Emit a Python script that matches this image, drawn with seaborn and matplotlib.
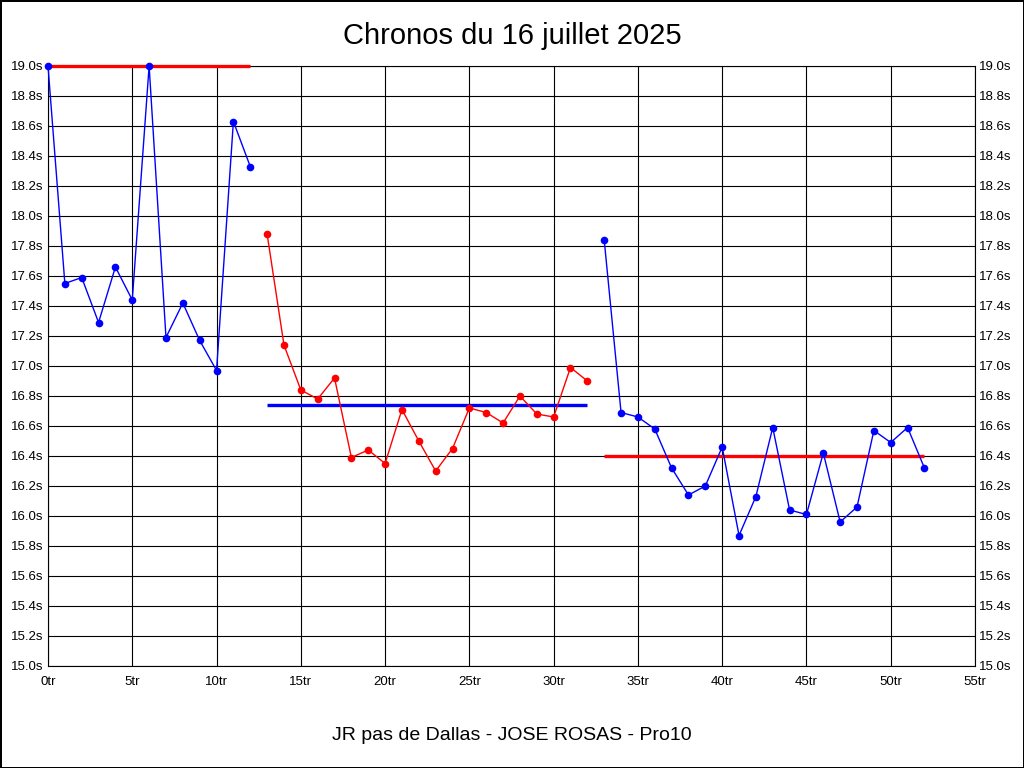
import numpy as np
import pandas as pd
import matplotlib
matplotlib.use("Agg")
import matplotlib.pyplot as plt
import seaborn as sns

# Lap times (seconds), one list per stint
stint1_times = [19.00, 17.55, 17.59, 17.29, 17.66, 17.44, 19.00, 17.19, 17.42, 17.17,
                16.97, 18.63, 18.33]
stint2_times = [17.88, 17.14, 16.84, 16.78, 16.92, 16.39, 16.44, 16.35, 16.71, 16.50,
                16.30, 16.45, 16.72, 16.69, 16.62, 16.80, 16.68, 16.66, 16.99, 16.90]
stint3_times = [17.84, 16.69, 16.66, 16.58, 16.32, 16.14, 16.20, 16.46, 15.87, 16.13,
                16.59, 16.04, 16.01, 16.42, 15.96, 16.06, 16.57, 16.49, 16.59, 16.32]
stint_colors = ["#0000ff", "#ff0000", "#0000ff"]

# Average line of each stint
avg_levels = [19.00, 16.74, 16.40]
avg_start = [0, 13, 33]
avg_end = [12, 32, 52]
avg_colors = ["#ff0000", "#0000ff", "#ff0000"]

x_ticks = list(range(0, 56, 5))
x_labels = [f"{v}tr" for v in x_ticks]
y_ticks = [round(15.0 + 0.2 * i, 1) for i in range(21)]
y_labels = [f"{v:.1f}s" for v in y_ticks]

title = "Chronos du 16 juillet 2025"
footer = "JR pas de Dallas - JOSE ROSAS - Pro10"

# Build one long table: lap number, time, stint
rows = []
lap = 0
for s, times in enumerate([stint1_times, stint2_times, stint3_times]):
    for t in times:
        rows.append({"lap": lap, "time": t, "stint": s})
        lap += 1
df = pd.DataFrame(rows)

sns.set_style("white")
plt.rcParams["font.family"] = ["Liberation Sans", "DejaVu Sans"]
plt.rcParams["text.color"] = "black"

fig = plt.figure(figsize=(10.24, 7.68), dpi=100, facecolor="white",
                 edgecolor="black", linewidth=2)
ax = fig.add_axes([48 / 1024, 1 - 666 / 768, (975 - 48) / 1024, 600 / 768])

for lvl, x0, x1, c in zip(avg_levels, avg_start, avg_end, avg_colors):
    ax.hlines(lvl, x0, x1, colors=c, linewidth=2.4, zorder=2.5, clip_on=False)

sns.lineplot(data=df, x="lap", y="time", hue="stint",
             palette=dict(enumerate(stint_colors)), marker="o", markersize=5.5,
             markeredgewidth=0, linewidth=1.0, legend=False, ax=ax, zorder=3)
for ln in ax.get_lines():
    ln.set_clip_on(False)

ax.set_xlim(0, 55)
ax.set_ylim(15.0, 19.0)
ax.set_xticks(x_ticks)
ax.set_xticklabels(x_labels)
ax.set_yticks(y_ticks)
ax.set_yticklabels(y_labels)
ax.set_xlabel("")
ax.set_ylabel("")
ax.grid(True, color="black", linewidth=0.8)
ax.set_axisbelow(True)
for sp in ax.spines.values():
    sp.set_visible(True)
    sp.set_color("black")
    sp.set_linewidth(0.8)
    sp.set_zorder(1)

ax.tick_params(axis="y", length=0, labelleft=True, labelright=True, pad=3,
               labelsize=9.5, colors="black")
ax.tick_params(axis="x", length=0, pad=7, labelsize=9.5, colors="black")

fig.text(0.5, 1 - 36 / 768, title, ha="center", va="center", fontsize=21, color="black")
fig.text(0.5, 1 - 735 / 768, footer, ha="center", va="center", fontsize=14, color="black")

fig.savefig("out.png", dpi=100)
